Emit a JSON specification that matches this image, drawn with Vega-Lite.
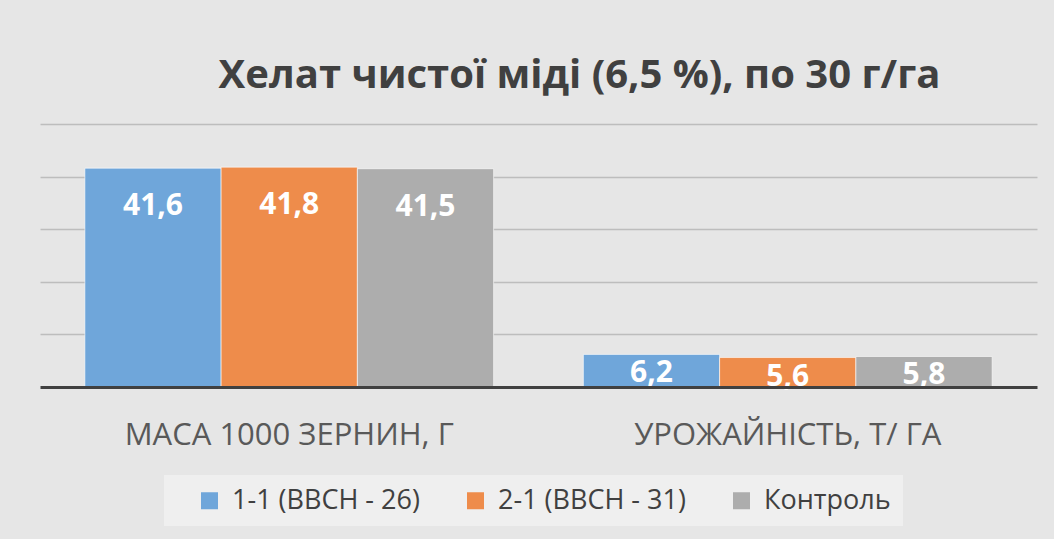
{
  "$schema": "https://vega.github.io/schema/vega-lite/v6.json",
  "width": 997,
  "height": 263,
  "autosize": {"type": "none"},
  "padding": {"left": 40, "top": 124, "right": 17, "bottom": 152},
  "background": "#e6e6e6",
  "config": {
    "locale": {"number": {"decimal": ",", "thousands": " ", "grouping": [3], "currency": ["", " ₴"]}},
    "view": {"stroke": null}
  },
  "title": {
    "text": "Хелат чистої міді (6,5 %), по 30 г/га",
    "font": "Open Sans",
    "fontSize": 40,
    "fontWeight": "bold",
    "color": "#404040",
    "anchor": "middle",
    "dx": 41,
    "offset": 28
  },
  "data": {
    "values": [
      {"category": "МАСА 1000 ЗЕРНИН, Г", "series": "1-1 (BBCH - 26)", "value": 41.6},
      {"category": "МАСА 1000 ЗЕРНИН, Г", "series": "2-1 (BBCH - 31)", "value": 41.8},
      {"category": "МАСА 1000 ЗЕРНИН, Г", "series": "Контроль", "value": 41.5},
      {"category": "УРОЖАЙНІСТЬ, Т/ ГА", "series": "1-1 (BBCH - 26)", "value": 6.2},
      {"category": "УРОЖАЙНІСТЬ, Т/ ГА", "series": "2-1 (BBCH - 31)", "value": 5.6},
      {"category": "УРОЖАЙНІСТЬ, Т/ ГА", "series": "Контроль", "value": 5.8}
    ]
  },
  "encoding": {
    "x": {
      "field": "category",
      "type": "nominal",
      "sort": null,
      "scale": {"paddingInner": 0.18, "paddingOuter": 0.09},
      "axis": {
        "title": null,
        "labelAngle": 0,
        "labelFont": "Open Sans",
        "labelFontSize": 31,
        "labelColor": "#595959",
        "labelPadding": 33,
        "labelLimit": 0,
        "ticks": false,
        "domainColor": "#404040",
        "domainWidth": 3,
        "zindex": 1
      }
    },
    "xOffset": {"field": "series", "type": "nominal", "sort": null},
    "y": {
      "field": "value",
      "type": "quantitative",
      "scale": {"domain": [0, 50]},
      "axis": {
        "title": null,
        "labels": false,
        "ticks": false,
        "domain": false,
        "grid": true,
        "gridColor": "#bdbdbd",
        "gridWidth": 1.5,
        "values": [10, 20, 30, 40, 50]
      }
    }
  },
  "layer": [
    {
      "mark": {"type": "bar", "stroke": "#ffffff", "strokeWidth": 1, "strokeOpacity": 0.6},
      "encoding": {
        "color": {
          "field": "series",
          "type": "nominal",
          "sort": null,
          "scale": {"range": ["#6FA6DA", "#EE8C4B", "#ADADAD"]},
          "legend": {
            "title": " ",
            "titleOrient": "left",
            "titleFontSize": 27,
            "titlePadding": 20,
            "orient": "none",
            "legendX": 124,
            "legendY": 351,
            "direction": "horizontal",
            "labelFont": "Open Sans",
            "labelFontSize": 27,
            "labelColor": "#404040",
            "labelLimit": 0,
            "symbolType": "square",
            "symbolSize": 289,
            "symbolStrokeWidth": 0,
            "fillColor": "#efefef",
            "padding": 12,
            "columnPadding": 42,
            "labelOffset": 9
          }
        }
      }
    },
    {
      "mark": {
        "type": "text",
        "color": "#ffffff",
        "font": "Open Sans",
        "fontWeight": "bold",
        "fontSize": 30,
        "baseline": "alphabetic",
        "dy": {"expr": "datum.value > 20 ? 47 : 28"}
      },
      "encoding": {
        "text": {"field": "value", "type": "quantitative", "format": ".1f"}
      }
    }
  ]
}
